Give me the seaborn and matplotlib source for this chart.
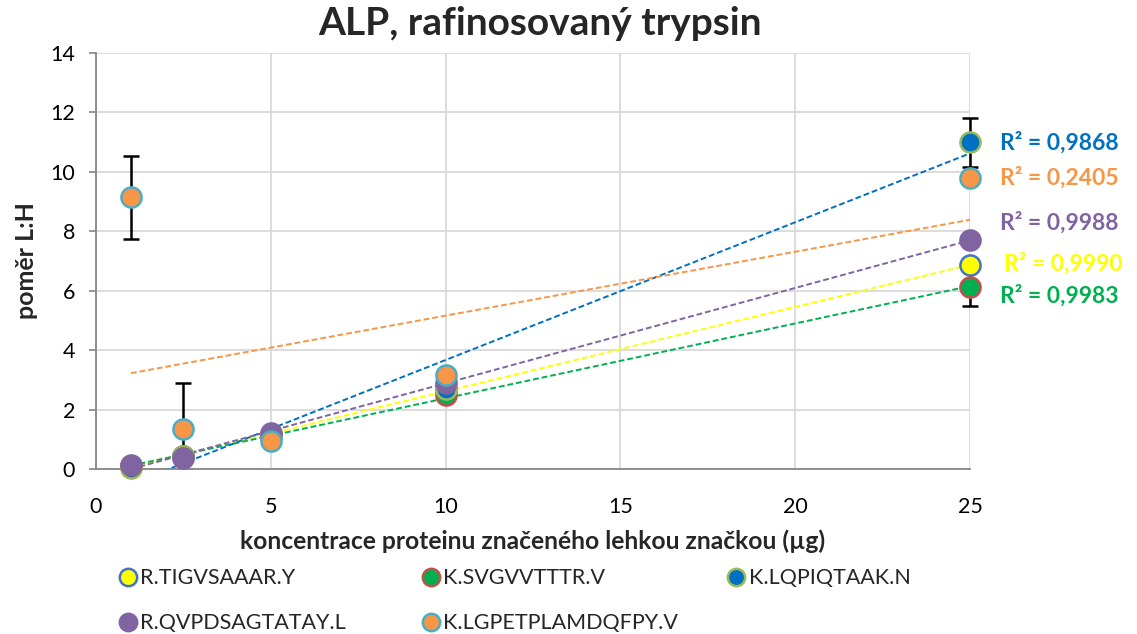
import numpy as np
import pandas as pd
import matplotlib
matplotlib.use("Agg")
import matplotlib.pyplot as plt
from matplotlib.lines import Line2D
import seaborn as sns

# Protein amount labelled with the light tag (µg)
conc = [1, 2.5, 5, 10, 25]

peptides = ["R.TIGVSAAAR.Y", "K.SVGVVTTTR.V", "K.LQPIQTAAK.N",
            "R.QVPDSAGTATAY.L", "K.LGPETPLAMDQFPY.V"]

# L:H ratios for each peptide
ratio_tigvsaaar = [0.10, 0.45, 1.15, 2.65, 6.87]
ratio_svgvvtttr = [0.10, 0.45, 1.10, 2.49, 6.12]
ratio_lqpiqtaak = [0.02, 0.45, 1.15, 2.70, 11.00]
ratio_qvpdsag = [0.15, 0.38, 1.20, 2.90, 7.71]
ratio_lgpetpl = [9.15, 1.35, 0.95, 3.15, 9.80]

# Standard deviations (error bars)
err_tigvsaaar = [0, 0, 0, 0, 0]
err_svgvvtttr = [0, 0, 0, 0, 0.65]
err_lqpiqtaak = [0, 0, 0, 0, 0.82]
err_qvpdsag = [0, 0, 0, 0, 0]
err_lgpetpl = [1.40, 1.55, 0, 0, 0]

r2_labels = ["R² = 0,9990", "R² = 0,9983", "R² = 0,9868", "R² = 0,9988", "R² = 0,2405"]
r2_label_y = [6.93, 5.82, 11.0, 8.3, 9.8]
r2_label_x = [25.97, 25.86, 25.86, 25.86, 25.86]

fill_colors = ["#FFFF00", "#00B050", "#0070C0", "#8064A2", "#F79646"]
edge_colors = ["#4472C4", "#C0504D", "#9BBB59", "#8064A2", "#4BACC6"]
text_colors = ["#FFFF00", "#00B050", "#0070C0", "#8064A2", "#F79646"]

ratios = [ratio_tigvsaaar, ratio_svgvvtttr, ratio_lqpiqtaak, ratio_qvpdsag, ratio_lgpetpl]
errors = [err_tigvsaaar, err_svgvvtttr, err_lqpiqtaak, err_qvpdsag, err_lgpetpl]

frames = []
for name, vals, errs in zip(peptides, ratios, errors):
    frames.append(pd.DataFrame({"conc": conc, "ratio": vals, "err": errs, "peptide": name}))
df = pd.concat(frames, ignore_index=True)

sns.set_theme(style="white")
plt.rcParams["font.family"] = ["Lato", "DejaVu Sans"]

fig = plt.figure(figsize=(11.37, 6.34), dpi=100)
ax = fig.add_axes([0.0844, 0.2603, 0.7687, 0.6561])

# Linear trend lines (dashed)
for i, name in enumerate(peptides):
    sub = df[df["peptide"] == name]
    sns.regplot(data=sub, x="conc", y="ratio", scatter=False, ci=None, truncate=True,
                ax=ax, line_kws=dict(color=fill_colors[i], lw=1.4, ls=(0, (3, 1.5)), zorder=3))

# Error bars: clipped to the plot area, except on the right edge where caps overhang
xmax = max(conc)
for i, name in enumerate(peptides):
    sub = df[(df["peptide"] == name) & (df["err"] > 0)]
    for edge in (False, True):
        part = sub[(sub["conc"] >= xmax) == edge]
        if len(part):
            ax.errorbar(part["conc"], part["ratio"], yerr=part["err"], fmt="none",
                        ecolor="black", elinewidth=1.8, capsize=6, capthick=1.8,
                        zorder=4, clip_on=not edge)

# Data points
for i, name in enumerate(peptides):
    sub = df[df["peptide"] == name]
    sns.scatterplot(data=sub, x="conc", y="ratio", ax=ax, s=210, color=fill_colors[i],
                    edgecolor=edge_colors[i], linewidth=1.8, zorder=5 + i,
                    clip_on=False, legend=False)

# R² annotations
for i in range(len(peptides)):
    ax.text(r2_label_x[i], r2_label_y[i], r2_labels[i], color=text_colors[i],
            fontsize=16.5, fontweight="bold", va="center", ha="left", clip_on=False)

ax.set_xlim(0, 25)
ax.set_ylim(0, 14)
ax.set_xticks([0, 5, 10, 15, 20, 25])
ax.set_yticks(np.arange(0, 15, 2))
ax.grid(True, color="#D9D9D9", lw=1.3)
ax.set_axisbelow(True)
for side in ["top", "right"]:
    ax.spines[side].set_visible(False)
for side in ["left", "bottom"]:
    ax.spines[side].set_color("#868686")
    ax.spines[side].set_linewidth(1.3)
ax.tick_params(axis="y", which="both", left=True, length=5, width=1.2, color="#868686",
               labelsize=15.5, pad=10, labelcolor="black")
ax.tick_params(axis="x", bottom=False, labelsize=15.5, pad=14, labelcolor="black")

ax.set_xlabel("koncentrace proteinu značeného lehkou značkou (µg)", fontsize=17.7,
              fontweight="bold", labelpad=9)
ax.set_ylabel("poměr L:H", fontsize=18, fontweight="bold", labelpad=9)
fig.suptitle("ALP, rafinosovaný trypsin", fontsize=28, fontweight="bold", x=0.475, y=0.99)

# Legend below the plot, three columns
handles = [Line2D([], [], ls="none", marker="o", markersize=12.5, markerfacecolor=fill_colors[i],
                  markeredgecolor=edge_colors[i], markeredgewidth=1.8) for i in range(5)]
columns = [([0, 3], 0.1065), ([1, 4], 0.373), ([2], 0.642)]
for idx, xpos in columns:
    leg = fig.legend([handles[j] for j in idx], [peptides[j] for j in idx],
                     loc="upper left", bbox_to_anchor=(xpos, 0.104), frameon=False,
                     fontsize=15.5, handlelength=0.6, handletextpad=0.3,
                     labelspacing=1.16, borderaxespad=0, borderpad=0)

fig.savefig("out.png", dpi=100)
